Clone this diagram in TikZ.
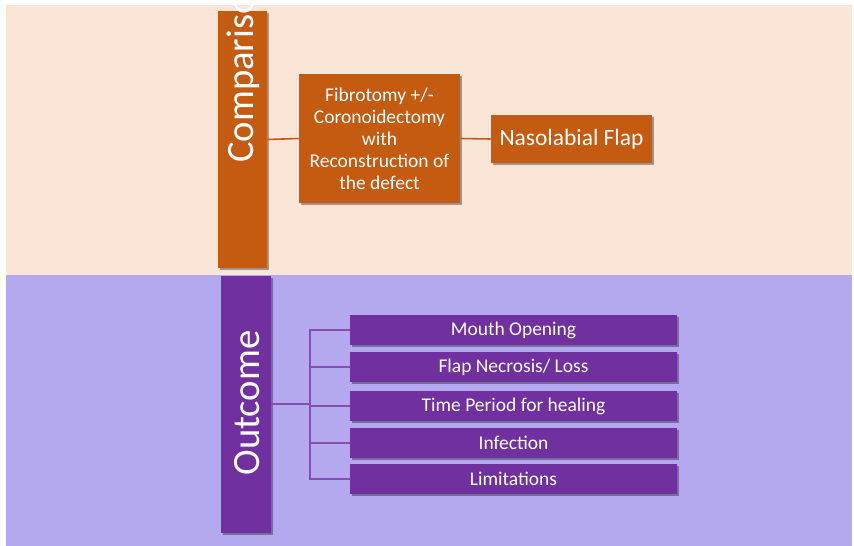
\documentclass[tikz,border=0pt]{standalone}
\usepackage{fontspec}
\setmainfont{Carlito}
\usetikzlibrary{shadows}
\definecolor{peachbg}{RGB}{250,229,215}
\definecolor{lavenderbg}{RGB}{180,169,238}
\definecolor{rust}{RGB}{197,90,17}
\definecolor{plum}{RGB}{112,48,160}
\def\px{0.75pt}
\begin{document}
\begin{tikzpicture}[x=0.75pt, y=-0.75pt,
    boxshadow/.style={drop shadow={shadow xshift=1.5pt, shadow yshift=-1.5pt, opacity=0.35, fill=black}},
    rustbox/.style={fill=rust, text=white, inner sep=0pt, align=center, boxshadow},
    plumbox/.style={fill=plum, text=white, inner sep=0pt, align=center, boxshadow,
      minimum width=327*\px, minimum height=30*\px, font=\fontsize{14.6}{16.5}\selectfont},
    bartext/.style={rotate=90, text=white, inner sep=0pt, font=\fontsize{29}{32}\selectfont},
    rustline/.style={draw=rust, line width=1.2pt},
    plumline/.style={draw=plum!85!white, line width=1.4pt}]
  \useasboundingbox (0, 0) rectangle (854, 546);
  % background bands
  \fill[peachbg] (6, 5) rectangle (852, 275);
  \fill[lavenderbg] (6, 275) rectangle (852, 546);

  % comparison row
  \node[rustbox, minimum width=49*\px, minimum height=257*\px] (compbar) at (242.5, 139.5) {};
  \node[bartext, anchor=west] (comptext) at (243, 163) {Comparison};
  \node[rustbox, minimum width=161*\px, minimum height=129*\px,
    font=\fontsize{14.6}{16.5}\selectfont] (fibrotomy) at (379.5, 138.5)
    {Fibrotomy +/-\\Coronoidectomy\\with\\Reconstruction of\\the defect};
  \node[rustbox, minimum width=161*\px, minimum height=48*\px,
    font=\fontsize{17.6}{20}\selectfont] (nasolabial) at (571.5, 139) {Nasolabial Flap};
  \draw[rustline] (compbar.east) -- (fibrotomy.west);
  \draw[rustline] (fibrotomy.east) -- (nasolabial.west);

  % outcome row
  \node[fill=plum, inner sep=0pt, boxshadow, minimum width=50*\px, minimum height=257*\px] (outbar) at (246, 404.5) {};
  \node[bartext] (outtext) at (247, 403) {Outcome};
  \coordinate (trunk) at (310, 404);
  \draw[plumline] (outbar.east |- trunk) -- (trunk);
  \foreach \y/\name/\txt in {330/mouth/{Mouth Opening}, 367/necrosis/{Flap Necrosis/ Loss},
      406/period/{Time Period for healing}, 443/infection/{Infection}, 479/limits/{Limitations}}
  {
    \node[plumbox] (\name) at (513.5, \y) {\txt};
    \draw[plumline] (trunk) |- (\name.west);
  }
\end{tikzpicture}
\end{document}
